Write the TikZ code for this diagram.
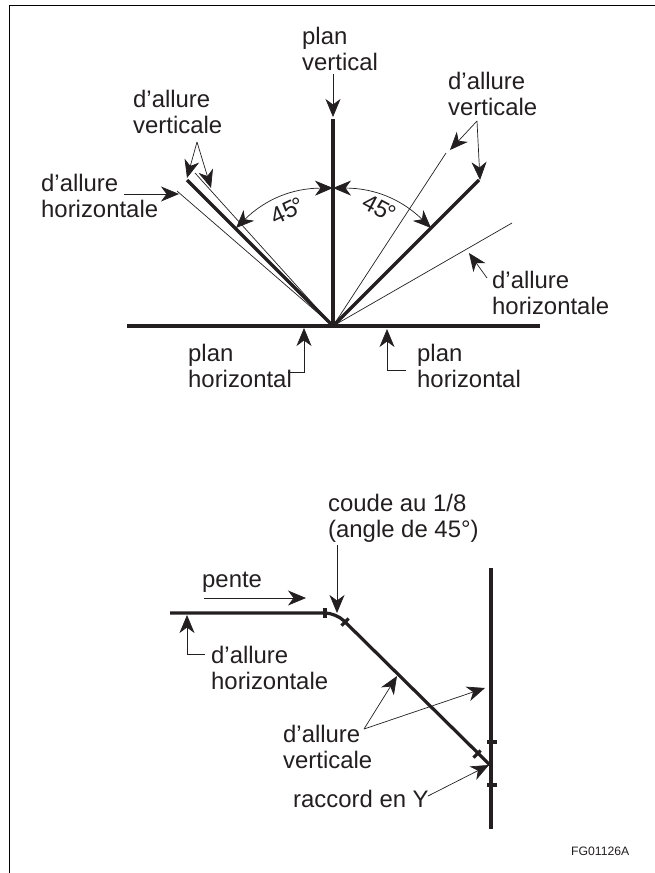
\documentclass[tikz,border=0pt]{standalone}
\usepackage{fontspec}
\setmainfont{Liberation Sans}
\usetikzlibrary{arrows.meta}
\definecolor{ink}{HTML}{231F20}
\tikzset{
	barb/.tip={Stealth[length=18pt,width=15pt,inset=5.5pt]},
	lab/.style={anchor=base west,align=left,inner sep=0pt,text=ink,font=\fontsize{23.9}{26}\selectfont},
	deg/.style={inner sep=0pt,text=ink,font=\fontsize{23.9}{26}\selectfont},
	pipe/.style={draw=ink,line width=3.2pt},
	fine/.style={draw=ink,line width=0.7pt},
	lead/.style={draw=ink,line width=0.7pt,-barb},
	tickmark/.style={fill=ink,inner sep=0pt,minimum width=3.2pt,minimum height=10pt}
}

\begin{document}
\begin{tikzpicture}[x=1pt,y=-1pt]
		\useasboundingbox (0,0) rectangle (655,873);
		\coordinate (frameA) at (655,5);
		\coordinate (frameB) at (9,5);
		\coordinate (frameC) at (9,873);
		\draw[draw=black,line width=1pt] (frameA) -- (frameB) -- (frameC);
		\coordinate (zero) at (333,326);
		\coordinate (planV) at (333,119);
		\coordinate (planL) at (127,326);
		\coordinate (planR) at (540,326);
		\coordinate (leftPipe) at (187,180);
		\coordinate (leftUp) at (195,173);
		\coordinate (leftLow) at (177,191);
		\coordinate (rightPipe) at (479,180);
		\coordinate (rightUp) at (446,153);
		\coordinate (rightLow) at (512,223);
		\draw[pipe] (planL) -- (planR);
		\draw[pipe] (planV) -- (zero);
		\draw[pipe] (leftPipe) -- (zero);
		\draw[pipe] (rightPipe) -- (zero);
		\draw[fine] (leftUp) -- (zero);
		\draw[fine] (leftLow) -- (zero);
		\draw[fine] (rightUp) -- (zero);
		\draw[fine] (rightLow) -- (zero);
		\node[lab] (planVert) at (302,70) {plan\\vertical};
		\node[lab] (vertA) at (133,133) {d’allure\\verticale};
		\node[lab] (horizA) at (41,217) {d’allure\\horizontale};
		\node[lab] (planA) at (188,387) {plan\\horizontal};
		\node[lab] (vertB) at (448,115) {d’allure\\verticale};
		\node[lab] (horizB) at (492,314) {d’allure\\horizontale};
		\node[lab] (planB) at (417,387) {plan\\horizontal};
		\node[deg,rotate=25] (angA) at (287,211) {45\kern-2.5pt°};
		\node[deg,rotate=-28] (angB) at (379,208) {45\kern-2.5pt°};
		\coordinate (arcTop) at (333,188);
		\coordinate (arcL) at (236,228);
		\coordinate (arcR) at (431,228);
		\draw[lead,barb-barb] (arcL) to[bend left=22] (arcTop);
		\draw[lead,barb-barb] (arcTop) to[bend left=22] (arcR);
		\coordinate (vLeadS) at (333,74);
		\coordinate (vLeadE) at (333,117);
		\draw[lead] (vLeadS) -- (vLeadE);
		\coordinate (vertAtop) at (197,142);
		\coordinate (vertAe1) at (187,178);
		\coordinate (vertAe2) at (211,188);
		\draw[lead] (vertAtop) -- (vertAe1);
		\draw[lead] (vertAtop) -- (vertAe2);
		\coordinate (horizAs) at (124,194);
		\coordinate (horizAe) at (179,194);
		\draw[lead] (horizAs) -- (horizAe);
		\coordinate (planAs) at (288,372);
		\coordinate (planAc) at (304,372);
		\coordinate (planAe) at (304,328);
		\draw[lead] (planAs) -- (planAc) -- (planAe);
		\coordinate (planBs) at (406,370);
		\coordinate (planBc) at (387,370);
		\coordinate (planBe) at (387,329);
		\draw[lead] (planBs) -- (planBc) -- (planBe);
		\coordinate (vertBtop) at (477,121);
		\coordinate (vertBe1) at (450,150);
		\coordinate (vertBe2) at (480,180);
		\draw[lead] (vertBtop) -- (vertBe1);
		\draw[lead] (vertBtop) -- (vertBe2);
		\coordinate (horizBs) at (487,278);
		\coordinate (horizBe) at (469,253);
		\draw[lead] (horizBs) -- (horizBe);
		\coordinate (drainS) at (170,613);
		\coordinate (drainC) at (336,613);
		\coordinate (drainE) at (490,765);
		\coordinate (stackT) at (491,568);
		\coordinate (stackB) at (491,829);
		\draw[pipe,rounded corners=11pt] (drainS) -- (drainC) -- (drainE);
		\draw[pipe] (stackT) -- (stackB);
		\node[tickmark] (tickA) at (325,613) {};
		\node[tickmark,rotate=-45] (tickB) at (345,622) {};
		\node[tickmark,rotate=-45] (tickC) at (477,754) {};
		\node[tickmark,rotate=90] (tickD) at (492,742) {};
		\node[tickmark,rotate=90] (tickE) at (492,785) {};
		\node[lab] (coude) at (328,537) {coude au 1/8\\(angle de 45°)};
		\node[lab] (pente) at (202,587) {pente};
		\node[lab] (horizC) at (211,689) {d’allure\\horizontale};
		\node[lab] (vertC) at (283,768) {d’allure\\verticale};
		\node[lab] (raccord) at (293,807) {raccord en Y};
		\node[lab,font=\fontsize{12.2}{13}\selectfont] (ref) at (571,855) {FG01126A};
		\coordinate (coudeS) at (337,545);
		\coordinate (coudeE) at (337,613);
		\draw[lead] (coudeS) -- (coudeE);
		\coordinate (penteS) at (204,598);
		\coordinate (penteE) at (306,598);
		\draw[lead] (penteS) -- (penteE);
		\coordinate (horizCs) at (205,654);
		\coordinate (horizCc) at (187,654);
		\coordinate (horizCe) at (187,615);
		\draw[lead] (horizCs) -- (horizCc) -- (horizCe);
		\coordinate (vertCtop) at (364,729);
		\coordinate (vertCe1) at (397,676);
		\coordinate (vertCe2) at (485,688);
		\draw[lead] (vertCtop) -- (vertCe1);
		\draw[lead] (vertCtop) -- (vertCe2);
		\coordinate (raccordS) at (428,796);
		\coordinate (raccordE) at (489,765);
		\draw[lead] (raccordS) -- (raccordE);
	\end{tikzpicture}
\end{document}
